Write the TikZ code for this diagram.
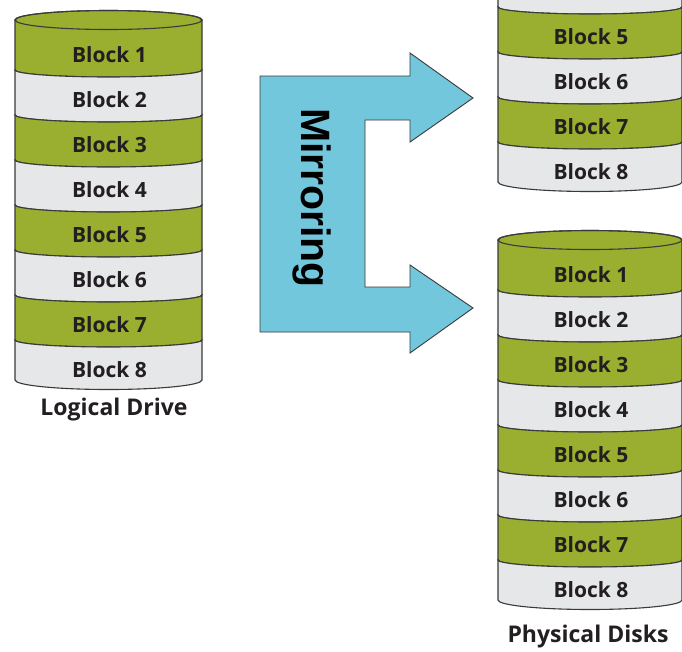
\documentclass[tikz,border=0pt]{standalone}
\usepackage{fontspec}
\newfontfamily\blockfont{Open Sans}
\newfontfamily\arrowfont{Liberation Sans}
\definecolor{diskgreen}{HTML}{9AAE2F}
\definecolor{diskgray}{HTML}{E6E7E9}
\definecolor{diskline}{HTML}{3A3A3A}
\definecolor{mirrorblue}{HTML}{73C7DD}
\definecolor{textdark}{HTML}{231F20}
\tikzset{
  blocktext/.style={font=\blockfont\bfseries\fontsize{21}{21}\selectfont, text=textdark, inner sep=0pt},
  labeltext/.style={font=\blockfont\bfseries\fontsize{23}{23}\selectfont, text=textdark, inner sep=0pt},
  diskedge/.style={draw=diskline, line width=1.1pt},
  mirrortext/.style={font=\arrowfont\bfseries\fontsize{41}{41}\selectfont, text=black, rotate=-90, inner sep=0pt},
}
% #1 left x, #2 right x, #3 vertical offset, #4 first band, #5 name prefix
\newcommand\drawdisk[5]{%
  \pgfmathsetmacro\dR{(#2-#1)/2}%
  \pgfmathsetmacro\dcx{(#1+#2)/2}%
  \foreach \i in {#4,...,8}{%
    \pgfmathsetmacro\dt{\i==1 ? 20+#3 : 25+45*(\i-1)+#3}%
    \pgfmathsetmacro\db{\i==8 ? 380+#3 : 70+45*(\i-1)+#3}%
    \pgfmathsetmacro\ryt{\i==1 ? 9.5 : 7}%
    \pgfmathsetmacro\ryb{\i==8 ? 9.5 : 7}%
    \pgfmathsetmacro\endang{\i==1 ? 180 : -180}%
    \ifodd\i \def\bandcol{diskgreen}\else \def\bandcol{diskgray}\fi
    \filldraw[fill=\bandcol, diskedge] (#1,\dt) -- (#1,\db)
      arc[start angle=180, end angle=360, x radius=\dR pt, y radius=\ryb pt]
      -- (#2,\dt)
      arc[start angle=0, end angle=\endang, x radius=\dR pt, y radius=\ryt pt] -- cycle;
    \ifnum\i=1
      \draw[diskedge] (\dcx,\dt) ellipse[x radius=\dR pt, y radius=9.5pt];
    \fi
    \node[blocktext] (#5\i) at (\dcx+1, {55+45*(\i-1)+#3}) {Block \i};
  }%
}
\begin{document}
\begin{tikzpicture}[x=1pt,y=-1pt]
\useasboundingbox (0,0) rectangle (682,651);
\clip (0,0) rectangle (682,651);
\fill[white] (0,0) rectangle (682,651);

% logical drive
\drawdisk{15}{202}{0}{1}{L}
\node[labeltext] (logical) at (114,410) {Logical Drive};

% physical disks
\drawdisk{498}{682}{-198}{4}{Q}
\drawdisk{498}{682}{220}{1}{P}
\node[labeltext] (physical) at (588,637) {Physical Disks};

% mirroring arrow
\filldraw[fill=mirrorblue, draw=diskline, line width=0.9pt]
  (260,76) -- (410,76) -- (410,53) -- (473,98) -- (410,142) -- (410,120)
  -- (365,120) -- (365,287) -- (410,287) -- (410,265) -- (473,308)
  -- (410,353) -- (410,332) -- (260,332) -- cycle;
\node[mirrortext] (mirror) at (312,198) {Mirroring};
\end{tikzpicture}
\end{document}
